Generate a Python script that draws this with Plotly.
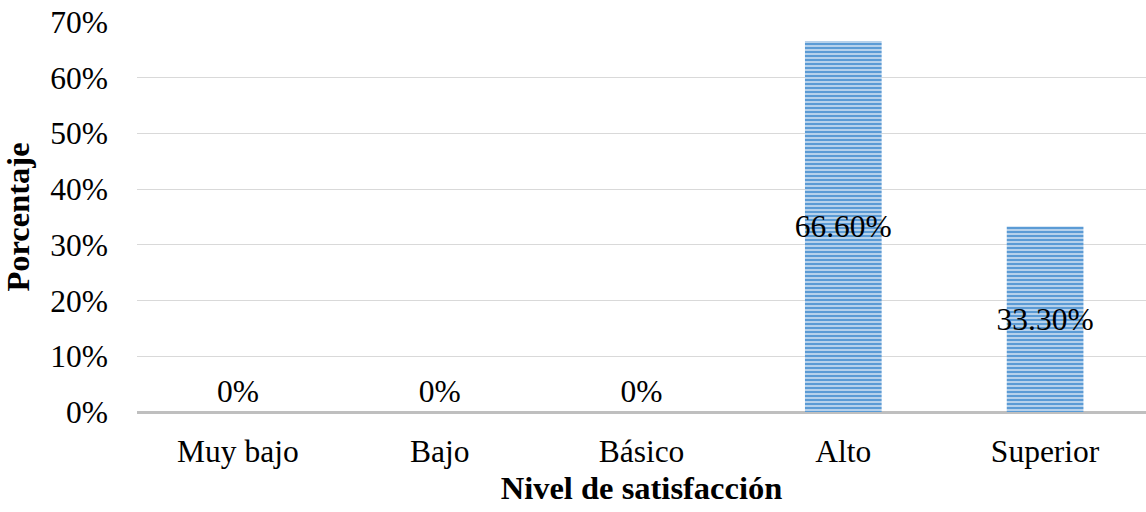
import plotly.graph_objects as go

categories = ["Muy bajo", "Bajo", "Básico", "Alto", "Superior"]
values = [0, 0, 0, 66.6, 33.3]
labels = ["0%", "0%", "0%", "66.60%", "33.30%"]
tick_vals = [0, 10, 20, 30, 40, 50, 60, 70]
tick_text = ["0%", "10%", "20%", "30%", "40%", "50%", "60%", "70%"]

font_family = "Liberation Serif, Times New Roman, serif"

fig = go.Figure(go.Bar(
    x=categories,
    y=values,
    text=labels,
    textposition=["outside" if v == 0 else "inside" for v in values],
    insidetextanchor="middle",
    constraintext="none",
    textangle=0,
    textfont=dict(family=font_family, size=31.5, color="black"),
    cliponaxis=False,
    width=0.38,
    marker=dict(
        color="#dde8f5",
        line=dict(width=0),
        pattern=dict(shape="-", fgcolor="#5b9bd5", bgcolor="#dde8f5",
                     fgopacity=1, size=4, solidity=0.65, fillmode="replace"),
    ),
))

fig.update_layout(
    width=1146, height=512,
    margin=dict(l=137, r=0, t=22, b=100),
    paper_bgcolor="white", plot_bgcolor="white",
    font=dict(family=font_family, size=31.5, color="black"),
    showlegend=False,
    uniformtext=dict(mode=False),
    xaxis=dict(
        title=dict(text="<b>Nivel de satisfacción</b>", font=dict(size=32.5), standoff=8),
        showline=False, showgrid=False, ticks="",
        tickfont=dict(size=31.5),
        ticklabelstandoff=17,
    ),
    yaxis=dict(
        title=dict(text="<b>Porcentaje</b>", font=dict(size=32.5), standoff=10),
        range=[0, 70], tickvals=tick_vals, ticktext=tick_text,
        showgrid=True, gridcolor="#d9d9d9", gridwidth=1,
        zeroline=True, zerolinecolor="#bfbfbf", zerolinewidth=3,
        showline=False, ticks="", ticklen=0,
        tickfont=dict(size=31.5),
        ticklabelstandoff=28,
    ),
)

fig.write_html("out.html")
